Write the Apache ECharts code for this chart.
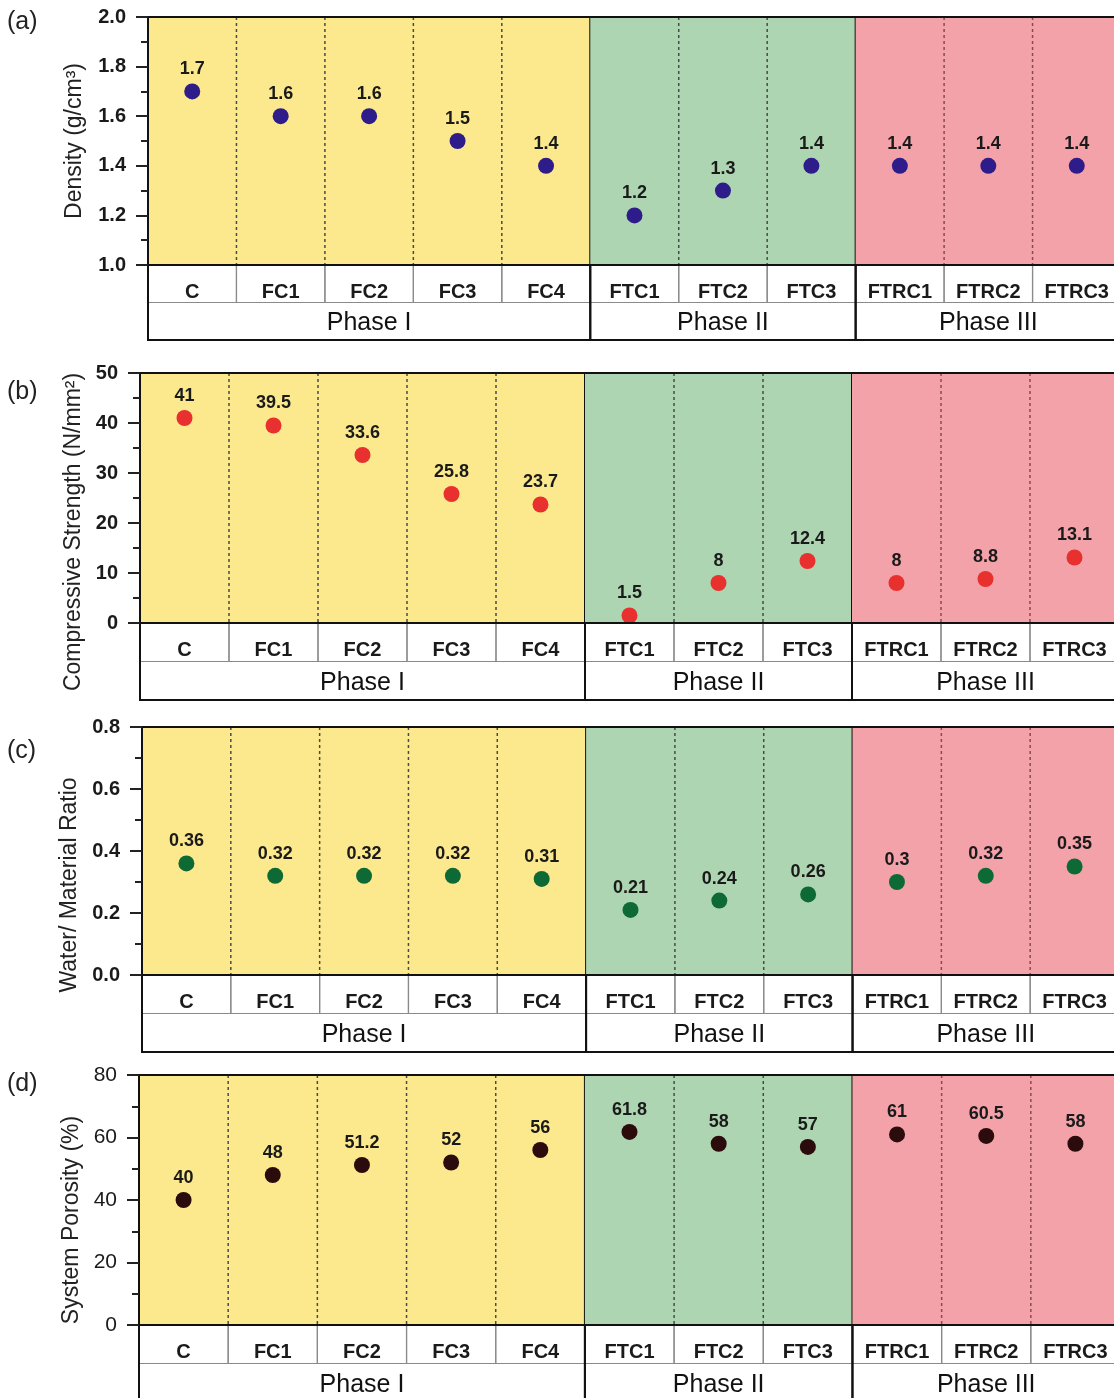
<!DOCTYPE html>
<html>
<head>
    <meta charset="utf-8">
    <title>Density / strength / w-m ratio / porosity</title>
    <script src="https://cdn.jsdelivr.net/npm/echarts@6/dist/echarts.min.js"></script>
</head>
<body style="margin:0;background:#fff">
    <div id="main" style="width:1114px;height:1398px;"></div>
    <script type="text/javascript">
// categories and phases
var categories = ['C', 'FC1', 'FC2', 'FC3', 'FC4', 'FTC1', 'FTC2', 'FTC3', 'FTRC1', 'FTRC2', 'FTRC3'];
var phaseNames = ['Phase I', 'Phase II', 'Phase III'];
var phaseSizes = [5, 3, 3];

// values
var density = [1.7, 1.6, 1.6, 1.5, 1.4, 1.2, 1.3, 1.4, 1.4, 1.4, 1.4];
var strength = [41, 39.5, 33.6, 25.8, 23.7, 1.5, 8, 12.4, 8, 8.8, 13.1];
var wmRatio = [0.36, 0.32, 0.32, 0.32, 0.31, 0.21, 0.24, 0.26, 0.3, 0.32, 0.35];
var porosity = [40, 48, 51.2, 52, 56, 61.8, 58, 57, 61, 60.5, 58];

var FONT = '"Liberation Sans", Arial, sans-serif';
var phaseColors = ['#fce98e', '#aed5b1', '#f4a2aa'];

// panel layout (nameShift pushes the axis title down along the axis)
var panels = [
    {tag: '(a)', tagTop: 5, values: density, name: 'Density (g/cm³)', min: 1, max: 2, interval: 0.2, dec: 1,
     color: '#2d1c8a', left: 148, top: 17, height: 248, width: 973, tabH: 75, nameGap: 62, nameShift: 0, boldY: true},
    {tag: '(b)', tagTop: 375, values: strength, name: 'Compressive Strength (N/mm²)', min: 0, max: 50, interval: 10, dec: 0,
     color: '#e8302f', left: 140, top: 373, height: 250, width: 979, tabH: 77, nameGap: 55, nameShift: 34, boldY: true},
    {tag: '(c)', tagTop: 734, values: wmRatio, name: 'Water/ Material Ratio', min: 0, max: 0.8, interval: 0.2, dec: 1,
     color: '#0e6a35', left: 142, top: 727, height: 248, width: 977, tabH: 77, nameGap: 61, nameShift: 34, boldY: true},
    {tag: '(d)', tagTop: 1067, values: porosity, name: 'System Porosity (%)', min: 0, max: 80, interval: 20, dec: 0,
     color: '#2b0b0b', left: 139, top: 1075, height: 250, width: 981, tabH: 77, nameGap: 54, nameShift: 20, boldY: false}
];

// phase spans in category index units
function phaseData() {
    var d = [], s = 0;
    phaseSizes.forEach(function (n, k) {
        d.push([s - 0.5, s + n - 0.5, n]);
        s += n;
    });
    return d;
}

// label table: category cells (row 1..2), phase cells (row 0..2)
function tableData() {
    var d = [];
    categories.forEach(function (c, i) { d.push([i - 0.5, i + 0.5, 1, 2, 0]); });
    phaseData().forEach(function (p) { d.push([p[0], p[1], 0, 2, 1]); });
    return d;
}

function makeBackground(p) {
    return function (params, api) {
        var x0 = api.value(0), x1 = api.value(1), n = api.value(2);
        var k = params.dataIndex;
        var a = api.coord([x0, p.max]), b = api.coord([x1, p.min]);
        var kids = [{
            type: 'rect',
            shape: {x: a[0], y: a[1], width: b[0] - a[0], height: b[1] - a[1]},
            style: {fill: phaseColors[k]}
        }];
        for (var j = 1; j < n; j++) {
            var c = api.coord([x0 + j, p.max]);
            kids.push({
                type: 'line',
                shape: {x1: c[0], y1: a[1], x2: c[0], y2: b[1]},
                style: {stroke: k === 2 ? '#8a4a52' : '#4a4a4a', lineWidth: 1.5, lineDash: [3, 3]}
            });
        }
        if (k < phaseSizes.length - 1) {
            kids.push({
                type: 'line',
                shape: {x1: b[0], y1: a[1], x2: b[0], y2: b[1]},
                style: {stroke: '#111', lineWidth: 2}
            });
        }
        return {type: 'group', children: kids};
    };
}

function renderTable(params, api) {
    var x0 = api.value(0), x1 = api.value(1), y0 = api.value(2), y1 = api.value(3), kind = api.value(4);
    var a = api.coord([x0, y1]), b = api.coord([x1, y0]);
    var kids = [{
        type: 'rect',
        shape: {x: a[0], y: a[1], width: b[0] - a[0], height: b[1] - a[1]},
        style: kind ? {fill: 'none', stroke: '#111', lineWidth: 2} : {fill: 'none', stroke: '#8a8a8a', lineWidth: 1.2}
    }];
    if (kind) {
        var m = api.coord([(x0 + x1) / 2, 0.5]);
        kids.push({
            type: 'text',
            style: {
                text: phaseNames[params.dataIndex - categories.length],
                x: m[0], y: m[1] + 2,
                textAlign: 'center', textVerticalAlign: 'middle',
                font: '25px ' + FONT, fill: '#111'
            }
        });
    }
    return {type: 'group', children: kids};
}

var grid = [], xAxis = [], yAxis = [], series = [], title = [];

panels.forEach(function (p, i) {
    var gMain = 2 * i, gTab = 2 * i + 1;
    grid.push({left: p.left, top: p.top, width: p.width, height: p.height, outerBoundsMode: 'none',
        show: true, borderColor: '#111', borderWidth: 2, backgroundColor: 'transparent', z: 10});
    grid.push({left: p.left, top: p.top + p.height, width: p.width, height: p.tabH, outerBoundsMode: 'none'});

    title.push({text: p.tag, left: 2, top: p.tagTop,
        textStyle: {fontSize: 25, fontWeight: 'normal', fontFamily: FONT, color: '#222'}});

    var xCat = xAxis.length;
    xAxis.push({
        type: 'category', gridIndex: gMain, data: categories, boundaryGap: true, z: 10,
        axisLine: {onZero: false, lineStyle: {color: '#111', width: 2}},
        axisTick: {alignWithLabel: true, length: 9, lineStyle: {color: '#222', width: 2}},
        axisLabel: {margin: 17, fontSize: 20, fontWeight: 'bold', color: '#1a1a1a', fontFamily: FONT},
        splitLine: {show: false}
    });
    var xVal = xAxis.length;
    xAxis.push({type: 'value', gridIndex: gMain, min: -0.5, max: 10.5, show: false});
    var xTab = xAxis.length;
    xAxis.push({type: 'value', gridIndex: gTab, min: -0.5, max: 10.5, show: false});

    var yMain = yAxis.length;
    yAxis.push({
        type: 'value', gridIndex: gMain, min: p.min, max: p.max, interval: p.interval, z: 10,
        name: p.name, nameLocation: 'middle', nameGap: p.nameGap,
        nameTextStyle: {fontSize: 23, color: '#222', fontFamily: FONT, padding: [0, 2 * p.nameShift, 0, 0]},
        axisLine: {show: true, onZero: false, lineStyle: {color: '#111', width: 2}},
        axisTick: {show: true, length: 12, lineStyle: {color: '#222', width: 2}},
        minorTick: {show: true, splitNumber: 2, length: 7, lineStyle: {color: '#222', width: 2}},
        axisLabel: {margin: 22, fontSize: p.boldY ? 20 : 21, fontWeight: p.boldY ? 'bold' : 'normal',
            color: '#1a1a1a', fontFamily: FONT,
            formatter: function (v) { return v.toFixed(p.dec); }},
        splitLine: {show: false}
    });
    var yTab = yAxis.length;
    yAxis.push({type: 'value', gridIndex: gTab, min: 0, max: 2, show: false});

    series.push({
        type: 'custom', xAxisIndex: xVal, yAxisIndex: yMain, z: 1, silent: true,
        renderItem: makeBackground(p), data: phaseData()
    });
    series.push({
        type: 'custom', xAxisIndex: xTab, yAxisIndex: yTab, z: 2, silent: true, clip: false,
        renderItem: renderTable, data: tableData()
    });
    series.push({
        type: 'scatter', xAxisIndex: xCat, yAxisIndex: yMain, z: 5,
        data: p.values, symbolSize: 16,
        itemStyle: {color: p.color, opacity: 1},
        label: {show: true, position: 'top', distance: 5, fontSize: 18, fontWeight: 'bold',
            color: '#1a1a1a', fontFamily: FONT,
            formatter: function (q) { return String(q.value); }}
    });
});

var chart = echarts.init(document.getElementById('main'));
chart.setOption({
    animation: false,
    backgroundColor: '#fff',
    title: title,
    grid: grid,
    xAxis: xAxis,
    yAxis: yAxis,
    series: series
});
    </script>
</body>
</html>
